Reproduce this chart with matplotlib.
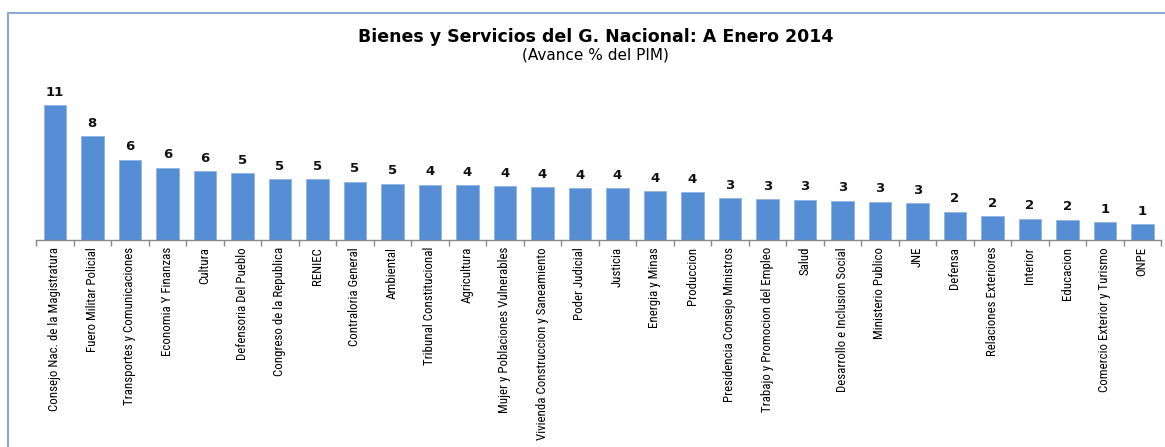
import matplotlib
matplotlib.use("Agg")
import matplotlib.pyplot as plt
from matplotlib import font_manager

categories = [
    "Consejo Nac. de la Magistratura", "Fuero Militar Policial", "Transportes y Comunicaciones",
    "Economia Y Finanzas", "Cultura", "Defensoria Del Pueblo", "Congreso de la Republica",
    "RENIEC", "Contraloria General", "Ambiental", "Tribunal Constitucional", "Agricultura",
    "Mujer y Poblaciones Vulnerables", "Vivienda Construccion y Saneamiento", "Poder Judicial",
    "Justicia", "Energia y Minas", "Produccion", "Presidencia Consejo Ministros",
    "Trabajo y Promocion del Empleo", "Salud", "Desarrollo e Inclusion Social",
    "Ministerio Publico", "JNE", "Defensa", "Relaciones Exteriores", "Interior",
    "Educacion", "Comercio Exterior y Turismo", "ONPE",
]
values = [10.8, 8.3, 6.45, 5.8, 5.55, 5.35, 4.87, 4.87, 4.68, 4.52, 4.45, 4.41, 4.33,
          4.23, 4.19, 4.19, 3.91, 3.85, 3.37, 3.29, 3.23, 3.15, 3.07, 2.94, 2.27, 1.92,
          1.71, 1.63, 1.45, 1.28]
title = "Bienes y Servicios del G. Nacional: A Enero 2014"
subtitle = "(Avance % del PIM)"

available = {f.name for f in font_manager.fontManager.ttflist}
narrow = next((f for f in ["Liberation Sans Narrow", "DejaVu Sans Condensed", "Roboto Condensed"]
               if f in available), "DejaVu Sans")

W, H = 1165, 447
fig = plt.figure(figsize=(W / 100, H / 100), dpi=100)

# frame
border = "#8eaad0"
fig.add_artist(plt.Line2D([8 / W, 8 / W], [0, 1 - 13 / H], transform=fig.transFigure,
                          color=border, lw=1.5))
fig.add_artist(plt.Line2D([8 / W, 1], [1 - 13 / H, 1 - 13 / H], transform=fig.transFigure,
                          color=border, lw=1.5))

ax_left, ax_right = 36, 1161
ax_bottom, ax_top = 240, 90
ax = fig.add_axes([ax_left / W, 1 - ax_bottom / H, (ax_right - ax_left) / W,
                   (ax_bottom - ax_top) / H])
x = list(range(len(categories)))
ax.bar(x, values, width=0.6, color="#558ed5", edgecolor="#8fb4e3", linewidth=0.6)
ax.set_xlim(-0.5, len(categories) - 0.5)
ax.set_ylim(0, 150 / 12.47)

for xi, v in zip(x, values):
    ax.annotate(f"{v:.0f}", (xi, v), xytext=(0, 4.5), textcoords="offset points",
                ha="center", va="bottom", fontsize=9.5, fontweight="bold", color="#111111")

for s in ["top", "right", "left"]:
    ax.spines[s].set_visible(False)
ax.spines["bottom"].set_color("#888888")
ax.spines["bottom"].set_linewidth(1.0)
ax.set_yticks([])
ax.set_xticks(x)
ax.set_xticklabels(categories, rotation=90, fontsize=9.3, family=narrow, color="black")
ax.tick_params(axis="x", which="major", length=0, pad=5)
ax.set_xticks([i - 0.5 for i in range(len(categories) + 1)], minor=True)
ax.tick_params(axis="x", which="minor", length=4, color="#888888", width=1)

fig.text(595.5 / W, 1 - 37 / H, title, ha="center", va="center", fontsize=12.5,
         fontweight="bold", color="black")
fig.text(595 / W, 1 - 54.5 / H, subtitle, ha="center", va="center", fontsize=11,
         color="black")

fig.savefig("out.png", dpi=100)
